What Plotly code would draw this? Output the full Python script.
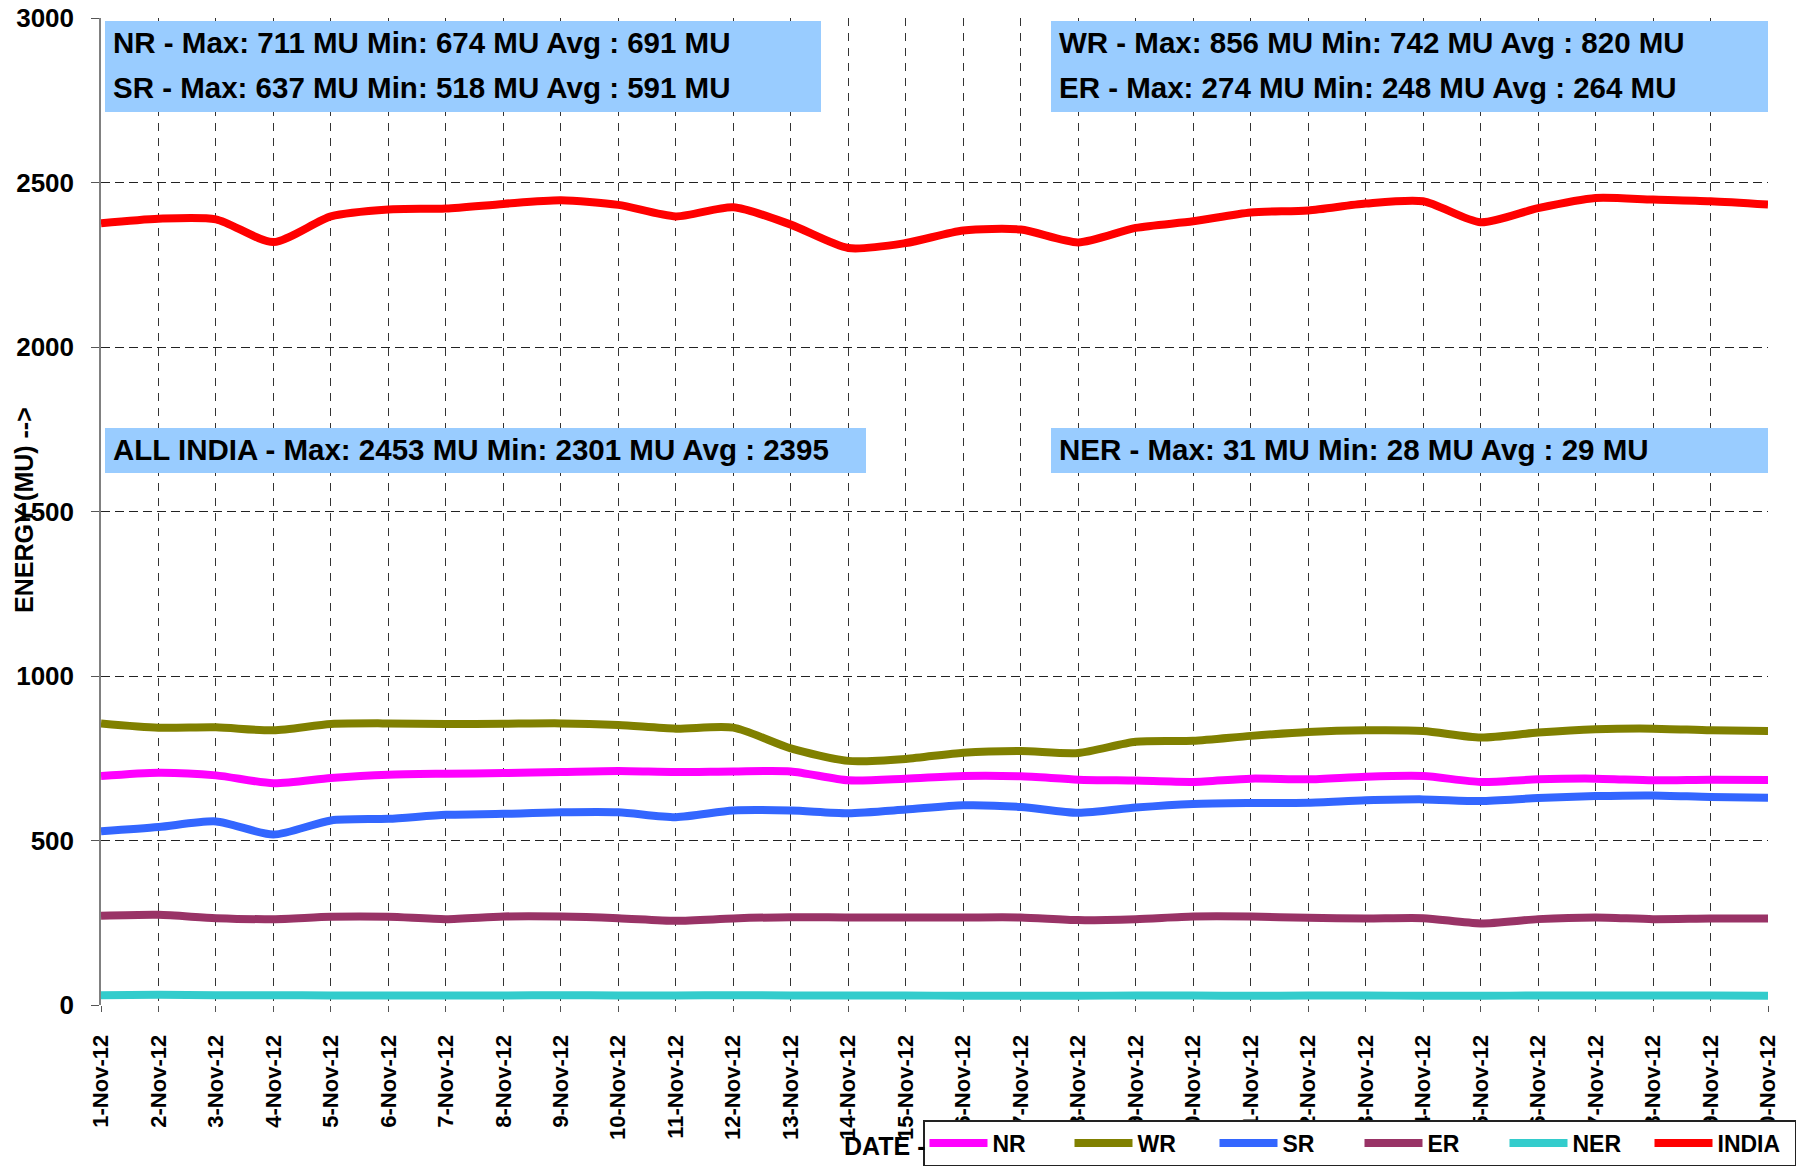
import plotly.graph_objects as go

DATES = ["1-Nov-12", "2-Nov-12", "3-Nov-12", "4-Nov-12", "5-Nov-12", "6-Nov-12",
         "7-Nov-12", "8-Nov-12", "9-Nov-12", "10-Nov-12", "11-Nov-12", "12-Nov-12",
         "13-Nov-12", "14-Nov-12", "15-Nov-12", "16-Nov-12", "17-Nov-12", "18-Nov-12",
         "19-Nov-12", "20-Nov-12", "21-Nov-12", "22-Nov-12", "23-Nov-12", "24-Nov-12",
         "25-Nov-12", "26-Nov-12", "27-Nov-12", "28-Nov-12", "29-Nov-12", "30-Nov-12"]

NR = [696, 706, 698, 674, 690, 700, 703, 705, 708, 711, 708, 710, 710, 683, 688,
      696, 695, 685, 682, 678, 688, 686, 694, 696, 678, 686, 688, 683, 685, 684]
WR = [856, 843, 844, 835, 854, 856, 854, 855, 856, 851, 840, 843, 780, 742, 748,
      767, 772, 766, 800, 803, 818, 830, 835, 833, 813, 828, 838, 840, 835, 833]
SR = [528, 541, 558, 518, 561, 566, 578, 581, 586, 586, 571, 591, 591, 583, 594,
      607, 602, 584, 600, 611, 614, 615, 622, 625, 620, 629, 635, 637, 632, 630]
ER = [271, 274, 264, 261, 268, 268, 261, 269, 269, 264, 256, 263, 267, 266, 266,
      266, 266, 258, 261, 269, 269, 265, 263, 264, 248, 261, 266, 261, 263, 263]
NER = [30, 31, 30, 30, 29, 29, 29, 29, 30, 29, 29, 30, 29, 29, 29,
       28, 28, 28, 29, 29, 28, 29, 29, 28, 28, 29, 29, 29, 29, 28]
INDIA = [2376, 2390, 2388, 2319, 2397, 2418, 2421, 2435, 2446, 2432, 2397, 2425, 2372, 2301, 2316,
         2354, 2357, 2318, 2362, 2382, 2409, 2415, 2436, 2443, 2379, 2422, 2453, 2448, 2443, 2433]

SERIES_NAMES = ["NR", "WR", "SR", "ER", "NER", "INDIA"]
SERIES_VALUES = [NR, WR, SR, ER, NER, INDIA]
COLORS = ["#FF00FF", "#808000", "#3366FF", "#993366", "#33CCCC", "#FF0000"]

YTICKS = [0, 500, 1000, 1500, 2000, 2500, 3000]
YTICK_TEXT = ["0", "500", "1000", "1500", "2000", "2500", "3000"]

BOX_TEXTS = [
    "NR - Max: 711 MU Min: 674 MU Avg : 691 MU",
    "SR - Max: 637 MU Min: 518 MU Avg : 591 MU",
    "WR - Max: 856 MU Min: 742 MU Avg : 820 MU",
    "ER - Max: 274 MU Min: 248 MU Avg : 264 MU",
    "ALL INDIA - Max: 2453 MU Min: 2301 MU Avg : 2395",
    "NER - Max: 31 MU Min: 28 MU Avg : 29 MU",
]

FONT = "Liberation Sans, Arial, sans-serif"

fig = go.Figure()
for name, vals, col in zip(SERIES_NAMES, SERIES_VALUES, COLORS):
    fig.add_trace(go.Scatter(
        x=DATES, y=vals, name=name, mode="lines",
        line=dict(color=col, width=8, shape="spline", smoothing=0.7),
    ))

# figure pixel geometry
W, H = 1809, 1169
ML, MR, MT, MB = 101, 41, 18, 164
PW, PH = W - ML - MR, H - MT - MB


def px_x(p):
    return (p - ML) / PW


def px_y(p):
    return (H - MB - p) / PH


BOX_FILL = "#99CCFF"
boxes = [(105, 821, 21, 112), (1051, 1768, 21, 112), (105, 866, 428, 473), (1051, 1768, 428, 473)]
for x0, x1, y0, y1 in boxes:
    fig.add_shape(type="rect", xref="paper", yref="paper",
                  x0=px_x(x0), x1=px_x(x1), y0=px_y(y1), y1=px_y(y0),
                  fillcolor=BOX_FILL, line=dict(width=0), layer="above")

text_pos = [(111, 42), (111, 88), (1057, 42), (1057, 88), (111, 449), (1057, 449)]
for txt, (tx, ty) in zip(BOX_TEXTS, text_pos):
    fig.add_annotation(xref="paper", yref="paper", x=px_x(tx), y=px_y(ty),
                       xanchor="left", yanchor="middle", showarrow=False,
                       text=txt, font=dict(family=FONT, size=29.5, color="black", weight="bold"))

# y-axis title
fig.add_annotation(xref="paper", yref="paper", x=px_x(24), y=px_y(510),
                   xanchor="center", yanchor="middle", showarrow=False, textangle=-90,
                   text="ENERGY (MU) -->",
                   font=dict(family=FONT, size=25, color="black", weight="bold"))
# x-axis title (partly hidden behind the legend in the original)
fig.add_annotation(xref="paper", yref="paper", x=px_x(842), y=px_y(1146),
                   xanchor="left", yanchor="middle", showarrow=False,
                   text="DATE -",
                   font=dict(family=FONT, size=25, color="black", weight="bold"))

fig.update_layout(
    width=W, height=H,
    margin=dict(l=ML, r=MR, t=MT, b=MB, autoexpand=False),
    paper_bgcolor="white", plot_bgcolor="white",
    font=dict(family=FONT, color="black"),
    showlegend=True,
    legend=dict(
        orientation="h", x=px_x(923), y=px_y(1166), xanchor="left", yanchor="bottom",
        bgcolor="white", bordercolor="#222222", borderwidth=1.5,
        font=dict(family=FONT, size=23, color="black", weight="bold"),
        entrywidth=72, itemwidth=58, tracegroupgap=0,
    ),
    xaxis=dict(
        type="category", range=[0, len(DATES) - 1],
        showgrid=True, gridcolor="#333333", gridwidth=1, griddash="8px,7px",
        showline=False, zeroline=False,
        ticks="outside", ticklen=6, tickcolor="#555555",
        tickangle=-90, ticklabelstandoff=14,
        tickfont=dict(family=FONT, size=22, color="black", weight="bold"),
    ),
    yaxis=dict(
        range=[0, 3000], tickmode="array", tickvals=YTICKS, ticktext=YTICK_TEXT,
        showgrid=True, gridcolor="#222222", gridwidth=1, griddash="9px,5px",
        showline=True, linecolor="#808080", linewidth=1.5, zeroline=False,
        ticks="outside", ticklen=8, tickcolor="#555555", ticklabelstandoff=12,
        tickfont=dict(family=FONT, size=26, color="black", weight="bold"),
    ),
)

fig.write_html("out.html", config={"displayModeBar": False},
               post_script="document.body.style.margin='0';")
